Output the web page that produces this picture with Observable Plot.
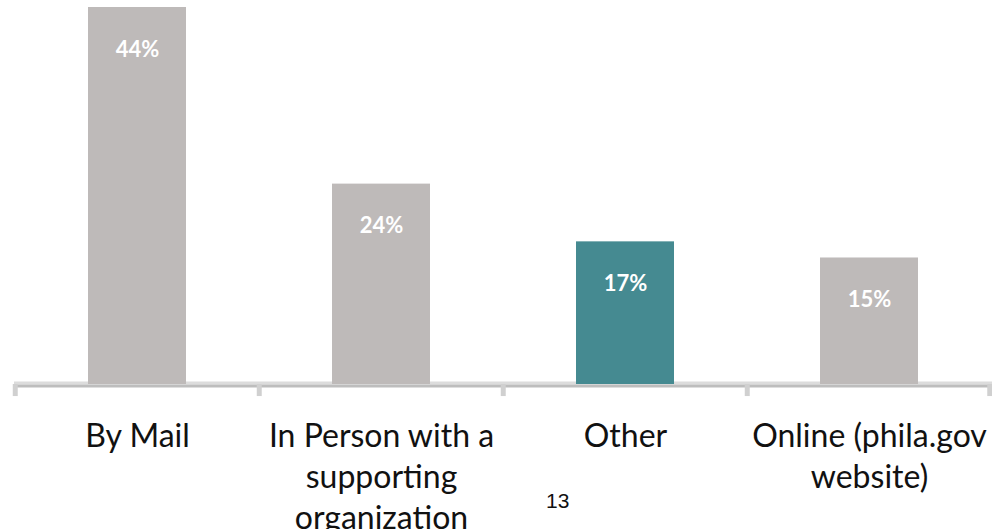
<!DOCTYPE html>
<html>
<head>
<meta charset="utf-8">
<script src="https://cdn.jsdelivr.net/npm/d3@7"></script>
<script src="https://cdn.jsdelivr.net/npm/@observablehq/plot@0.6"></script>
<style>
  html, body { margin: 0; padding: 0; background: #fff; }
  #wrap { position: relative; width: 992px; height: 529px; overflow: hidden; }
  #page { position: absolute; left: 546px; top: 489px; font-family: "Liberation Sans", Arial, sans-serif; font-size: 21px; color: #111; }
</style>
</head>
<body>
<div id="wrap"><div id="chart"></div><div id="page">13</div></div>
<script>
const categories = ["By Mail", "In Person with a\nsupporting\norganization", "Other", "Online (phila.gov\nwebsite)"];
const values = [44.4, 23.6, 16.8, 14.9];
const valueLabels = ["44%", "24%", "17%", "15%"];
const highlight = [false, false, true, false];

const data = categories.map((c, i) => ({cat: c, value: values[i], label: valueLabels[i], hi: highlight[i]}));

const W = 992, H = 529;
const step = (992 - 14) / categories.length;
const tickLen = -1.42; // tick length below the baseline, in y units

const chart = Plot.plot({
  width: W,
  height: H,
  marginLeft: 14,
  marginRight: 0,
  marginTop: 7,
  marginBottom: H - 384,
  style: {overflow: "visible"},
  x: {domain: categories, paddingInner: 0.6, paddingOuter: 0.3, axis: null},
  y: {domain: [0, 44.4], axis: null},
  marks: [
    Plot.ruleY([0], {stroke: "#dcdcdc", strokeWidth: 3, dy: -1.5}),
    Plot.barY(data, {x: "cat", y: "value", fill: d => d.hi ? "#458a91" : "#bebab9"}),
    Plot.ruleY([0], {stroke: "#bdbdbd", strokeWidth: 3, dy: 1.5}),
    Plot.ruleX(categories, {x: d => d, dx: -step / 2, y1: 0, y2: tickLen, stroke: "#d0d0d0", strokeWidth: 5}),
    Plot.ruleX(categories.slice(-1), {x: d => d, dx: step / 2 - 2, y1: 0, y2: tickLen, stroke: "#d0d0d0", strokeWidth: 5}),
    Plot.text(data, {x: "cat", y: "value", text: "label", dy: 42, fill: "white", fontWeight: "bold", fontSize: 22, fontFamily: "Lato"}),
    Plot.text(data, {x: "cat", y: 0, text: "cat", dy: 33, lineAnchor: "top", lineHeight: 1.28, fontSize: 32, fontFamily: "Lato", fill: "#111"})
  ]
});
document.getElementById("chart").appendChild(chart);
</script>
</body>
</html>
